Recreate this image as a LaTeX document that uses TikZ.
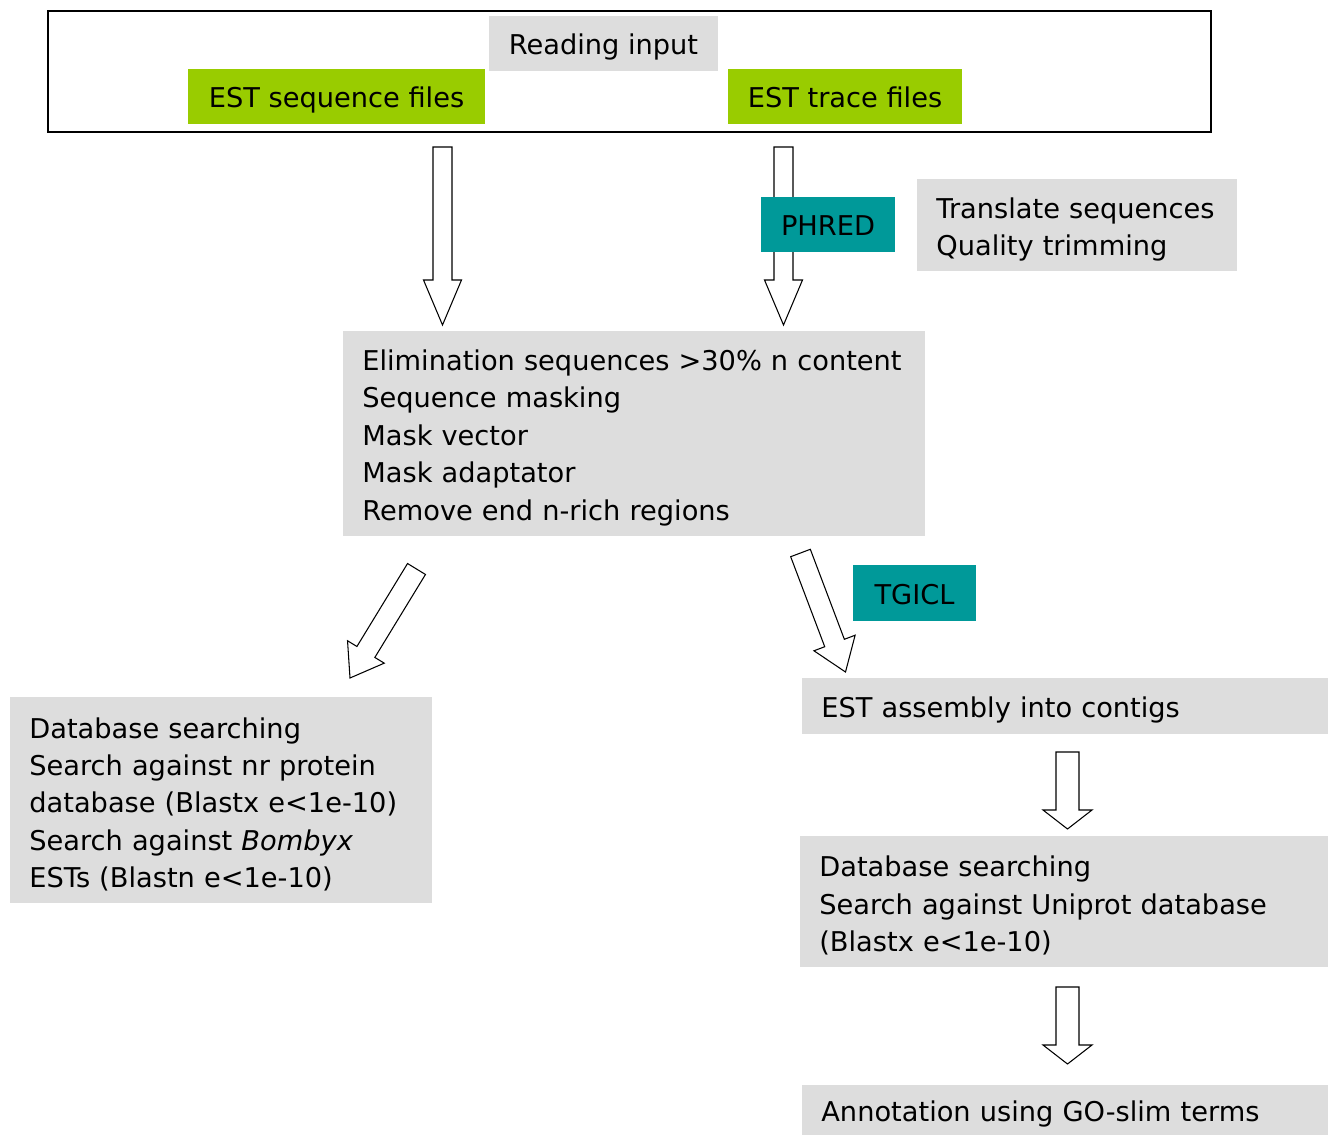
\documentclass[tikz,border=0pt]{standalone}
\usepackage{fontspec}
\setmainfont{DejaVu Sans}
\usetikzlibrary{calc}

\definecolor{boxgray}{HTML}{DDDDDD}
\definecolor{estgreen}{HTML}{99CC00}
\definecolor{toolteal}{HTML}{009999}

\newcommand{\flowfont}{\fontsize{15.5pt}{21.3pt}\selectfont}

\tikzset{
  textbox/.style={fill=boxgray, font=\flowfont, align=left, anchor=north west,
    inner xsep=3.8mm, inner ysep=0pt, execute at begin node={\rule{0pt}{16.3pt}}},
  tagbox/.style={fill=#1, font=\flowfont, inner sep=0pt,
    text height=13.8pt, text depth=1.2pt},
  hollow/.style n args={3}{draw, line width=0.6pt, fill=white,
    to path={
      ($(\tikztotarget)!#3!(\tikztostart)$) coordinate (hb)
      ($(\tikztostart)!#1!90:(\tikztotarget)$)
      -- ($(hb)!#1!90:(\tikztotarget)$) -- ($(hb)!#2!90:(\tikztotarget)$)
      -- (\tikztotarget)
      -- ($(hb)!#2!-90:(\tikztotarget)$) -- ($(hb)!#1!-90:(\tikztotarget)$)
      -- ($(\tikztostart)!#1!-90:(\tikztotarget)$) -- cycle}}
}

\begin{document}
\begin{tikzpicture}[x=0.2mm, y=-0.2mm]
\useasboundingbox (0,0) rectangle (1328,1135);

% Input frame
\draw[line width=1pt] (48,11) rectangle (1211,132);
\node[tagbox=boxgray, minimum width=45.8mm, minimum height=11mm] (reading) at (603.5,43.5) {Reading input};
\node[tagbox=estgreen, minimum width=59.4mm, minimum height=11mm] (estseq) at (336.5,96.5) {EST sequence files};
\node[tagbox=estgreen, minimum width=46.8mm, minimum height=11mm] (esttrace) at (845,96.5) {EST trace files};

% Arrows into cleaning step
\coordinate (seqtop) at (442.5,147);
\coordinate (seqtip) at (442.5,325);
\coordinate (tracetop) at (783.5,147);
\coordinate (tracetip) at (783.5,325);
\draw[hollow={1.9mm}{3.8mm}{9mm}] (seqtop) to (seqtip);
\draw[hollow={1.9mm}{3.8mm}{9mm}] (tracetop) to (tracetip);

\node[tagbox=toolteal, minimum width=26.8mm, minimum height=11mm] (phred) at (828,224.5) {PHRED};
\node[textbox, text width=56.4mm, minimum height=18.4mm] (translate) at (917,179)
  {Translate sequences\\Quality trimming};

% Cleaning step
\node[textbox, text width=108.8mm, minimum height=41mm] (elim) at (343,331)
  {Elimination sequences >30\% n content\\Sequence masking\\Mask vector\\Mask adaptator\\Remove end n-rich regions};

% Diagonal arrows
\coordinate (lefttop) at (416.5,569);
\coordinate (lefttip) at (350,678);
\coordinate (righttop) at (800.5,553);
\coordinate (righttip) at (845.5,672);
\draw[hollow={2.1mm}{4.3mm}{6.1mm}] (lefttop) to (lefttip);
\draw[hollow={2.1mm}{4.4mm}{6.2mm}] (righttop) to (righttip);

\node[tagbox=toolteal, minimum width=24.6mm, minimum height=11.2mm] (tgicl) at (914.5,593) {TGICL};

% Left branch
\node[textbox, text width=76.8mm, minimum height=41.2mm] (dbleft) at (10,697)
  {Database searching\\Search against nr protein\\database (Blastx e<1e-10)\\Search against \textit{Bombyx}\\ESTs (Blastn e<1e-10)};

% Right branch
\node[textbox, text width=97.6mm, minimum height=11.2mm] (assembly) at (802,678) {EST assembly into contigs};
\node[textbox, text width=98mm, minimum height=26.2mm] (dbright) at (800,836)
  {Database searching\\Search against Uniprot database\\(Blastx e<1e-10)};
\node[textbox, text width=97.6mm, minimum height=10mm] (annot) at (802,1085) {Annotation using GO-slim terms};

\coordinate (asmbot) at (1067.5,752);
\coordinate (dbrtop) at (1067.5,829);
\coordinate (dbrbot) at (1067.5,987);
\coordinate (annottop) at (1067.5,1064);
\draw[hollow={2.3mm}{4.9mm}{3.8mm}] (asmbot) to (dbrtop);
\draw[hollow={2.3mm}{4.9mm}{3.8mm}] (dbrbot) to (annottop);

\end{tikzpicture}
\end{document}
